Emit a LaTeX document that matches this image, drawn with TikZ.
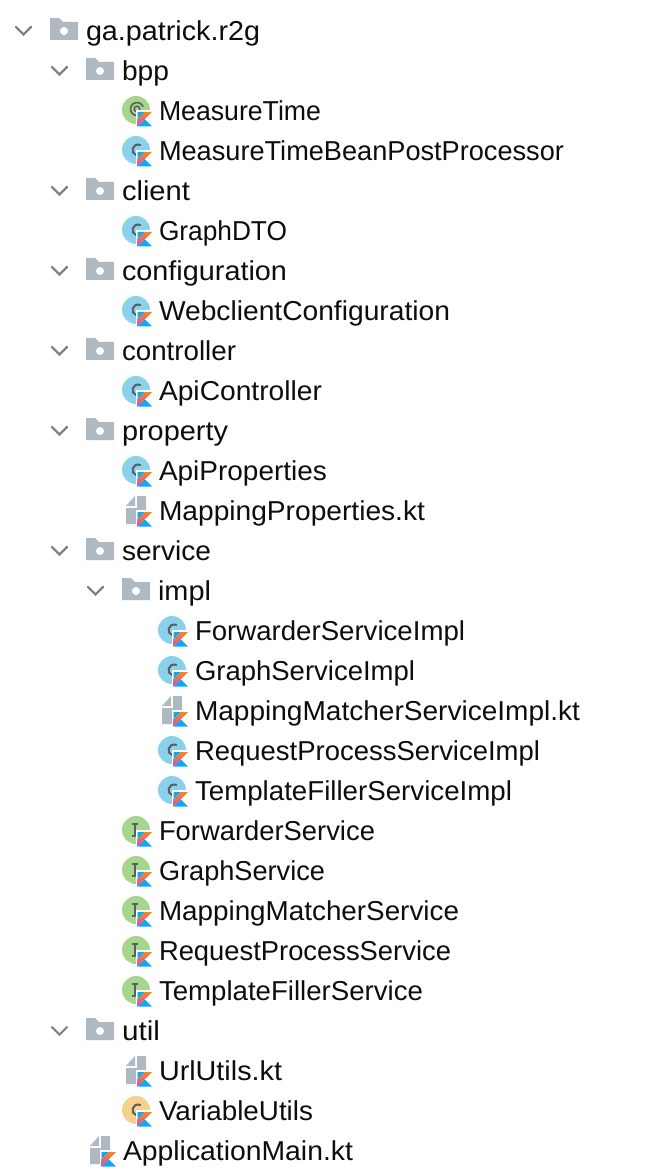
\documentclass[tikz,border=0pt]{standalone}
\usepackage{graphicx}
\usepackage{fontspec}
\setmainfont{Liberation Sans}
\definecolor{folderc}{HTML}{AFB9C1}
\definecolor{chevc}{HTML}{7F8487}
\definecolor{classc}{HTML}{8BD1EC}
\definecolor{annoc}{HTML}{A6D58E}
\definecolor{objc}{HTML}{F8D08E}
\definecolor{glyphc}{HTML}{595F63}
\definecolor{kor}{HTML}{F6851F}
\definecolor{kpk}{HTML}{C757BC}
\definecolor{kbl}{HTML}{10A8F5}
\tikzset{
  rowtext/.style={anchor=base west,inner sep=0pt,outer sep=0pt,font=\fontsize{20.5pt}{24pt}\selectfont,text=black!95},
  chev/.style={draw=chevc,line width=1.6pt,line cap=round,line join=miter}
}
\newcommand{\kbadge}[2]{%
  \begin{scope}[shift={(#1-21.5,#2+1)}]
    \fill[white] (-2,-2) rectangle (15,15);
    \fill[kbl] (0,14.5) -- (14.5,14.5) -- (7.25,7.25) -- cycle;
    \fill[kbl] (0,0) -- (7.25,0) -- (0,7.25) -- cycle;
    \shade[top color=kor,bottom color=kpk] (0,14.5) -- (0,7.25) -- (7.25,0) -- (14.5,0) -- cycle;
  \end{scope}}
\newcommand{\folder}[2]{%
  \fill[folderc] (#1-36,#2-13) -- (#1-27,#2-13) -- (#1-23,#2-9) -- (#1-8,#2-9) -- (#1-8,#2+9) -- (#1-36,#2+9) -- cycle;
  \fill[white] (#1-22,#2) circle (4);}
\newcommand{\chevron}[2]{\draw[chev] (#1-70,#2-4) -- (#1-62.5,#2+3.5) -- (#1-55,#2-4);}
\newcommand{\circicon}[3]{\fill[#3] (#1-23,#2-1) circle (14);}
\newcommand{\cglyph}[2]{\draw[glyphc,line width=1.5pt] (#1-21,#2-1) ++(60:5.5) arc[start angle=60,end angle=300,radius=5.5];}
\newcommand{\rowlabel}[5]{\node[rowtext] (#3) at (#1,#2+9.8) {\resizebox{\dimexpr\numexpr#5-#1\relax pt*3/4\relax}{\height}{#4}};}
\newcommand{\pkgrow}[5]{\chevron{#1}{#2}\folder{#1}{#2}\rowlabel{#1}{#2}{#3}{#4}{#5}}
\newcommand{\classrow}[5]{\circicon{#1}{#2}{classc}\cglyph{#1}{#2}\kbadge{#1}{#2}\rowlabel{#1}{#2}{#3}{#4}{#5}}
\newcommand{\objrow}[5]{\circicon{#1}{#2}{objc}\cglyph{#1}{#2}\kbadge{#1}{#2}\rowlabel{#1}{#2}{#3}{#4}{#5}}
\newcommand{\annorow}[5]{\circicon{#1}{#2}{annoc}%
  \draw[glyphc,line width=1.2pt] (#1-22,#2-2) circle (2.8);\draw[glyphc,line width=1.2pt] (#1-22,#2-2) ++(50:6.5) arc[start angle=50,end angle=340,radius=6.5];%
  \kbadge{#1}{#2}\rowlabel{#1}{#2}{#3}{#4}{#5}}
\newcommand{\ifacerow}[5]{\circicon{#1}{#2}{annoc}%
  \draw[glyphc,line width=1.4pt] (#1-24,#2-7) -- (#1-24,#2+5) (#1-27,#2-7) -- (#1-21,#2-7) (#1-27,#2+5) -- (#1-21,#2+5);%
  \kbadge{#1}{#2}\rowlabel{#1}{#2}{#3}{#4}{#5}}
\newcommand{\filerow}[5]{%
  \fill[folderc] (#1-33,#2-5) -- (#1-24,#2-15) -- (#1-24,#2-5) -- cycle;
  \fill[folderc] (#1-22,#2-15) -- (#1-13,#2-15) -- (#1-13,#2+13) -- (#1-33,#2+13) -- (#1-33,#2-3) -- (#1-22,#2-3) -- cycle;
  \kbadge{#1}{#2}\rowlabel{#1}{#2}{#3}{#4}{#5}}
\begin{document}
\begin{tikzpicture}[x=0.75pt,y=-0.75pt]
\useasboundingbox (0,0) rectangle (662,1176);
\fill[white] (0,0) rectangle (662,1176);
\pkgrow{86}{31}{root}{ga.patrick.r2g}{260}
\pkgrow{122}{71}{bpp}{bpp}{169}
\annorow{159}{111}{mt}{MeasureTime}{321}
\classrow{159}{151}{mtb}{MeasureTimeBeanPostProcessor}{564}
\pkgrow{122}{191}{client}{client}{190}
\classrow{159}{231}{gdto}{GraphDTO}{287}
\pkgrow{122}{271}{conf}{configuration}{287}
\classrow{159}{311}{wcc}{WebclientConfiguration}{450}
\pkgrow{122}{351}{ctrl}{controller}{236}
\classrow{159}{391}{apic}{ApiController}{322}
\pkgrow{122}{431}{prop}{property}{228}
\classrow{159}{471}{apip}{ApiProperties}{327}
\filerow{159}{511}{mapp}{MappingProperties.kt}{425}
\pkgrow{122}{551}{serv}{service}{211}
\pkgrow{158}{591}{impl}{impl}{211}
\classrow{195}{631}{fsi}{ForwarderServiceImpl}{465}
\classrow{195}{671}{gsi}{GraphServiceImpl}{415}
\filerow{195}{711}{mmsi}{MappingMatcherServiceImpl.kt}{580}
\classrow{195}{751}{rpsi}{RequestProcessServiceImpl}{540}
\classrow{195}{791}{tfsi}{TemplateFillerServiceImpl}{512}
\ifacerow{159}{831}{fs}{ForwarderService}{375}
\ifacerow{159}{871}{gs}{GraphService}{325}
\ifacerow{159}{911}{mms}{MappingMatcherService}{459}
\ifacerow{159}{951}{rps}{RequestProcessService}{451}
\ifacerow{159}{991}{tfs}{TemplateFillerService}{423}
\pkgrow{122}{1031}{util}{util}{160}
\filerow{159}{1071}{uu}{UrlUtils.kt}{282}
\objrow{159}{1111}{vu}{VariableUtils}{313}
\filerow{123}{1151}{app}{ApplicationMain.kt}{353}
\end{tikzpicture}
\end{document}
